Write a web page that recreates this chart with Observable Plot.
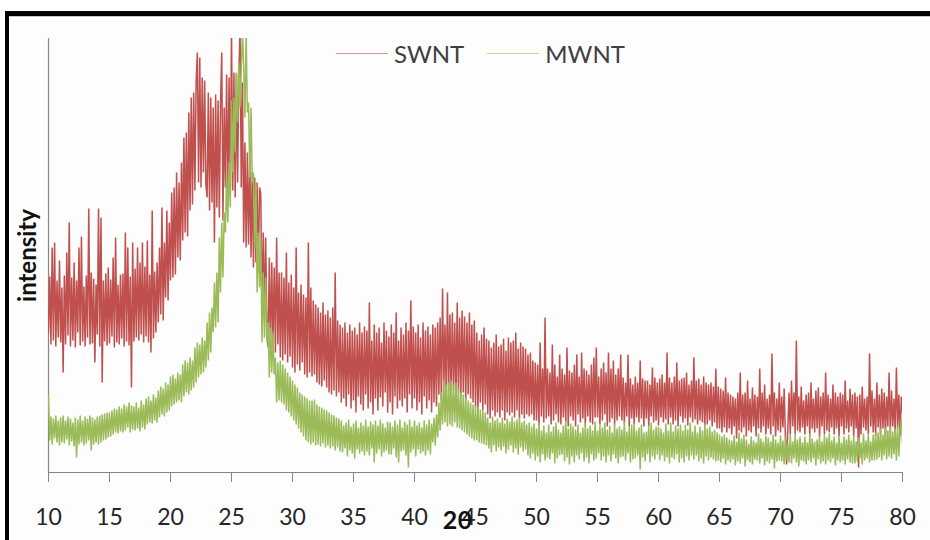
<!DOCTYPE html>
<html>
<head>
<meta charset="utf-8">
<script src="https://cdn.jsdelivr.net/npm/d3@7"></script>
<script src="https://cdn.jsdelivr.net/npm/@observablehq/plot@0.6"></script>
<style>
  html, body { margin: 0; padding: 0; background: #fff; }
  #page { position: relative; width: 930px; height: 540px; overflow: hidden; }
  #frame {
    position: absolute; left: 5px; top: 11px; width: 1000px; height: 600px;
    border-left: 4px solid #000; border-top: 5px solid #000;
    background: #fdfdfd; box-shadow: inset 0 1px 0 #c8c8c8;
  }
  #chart { position: absolute; left: 0; top: 0; }
  #legend {
    position: absolute; left: 336px; top: 39px; height: 28px;
    display: flex; align-items: center;
    font-family: Lato, sans-serif; font-size: 24px; color: #404040;
  }
  .key { display: inline-block; width: 52px; height: 0; border-top: 1.5px solid; opacity: 0.6; }
</style>
</head>
<body>
<div id="page">
  <div id="frame"></div>
  <div id="chart"></div>
  <div id="legend"></div>
</div>
<script>
// XRD scan grid: 2θ from 10° to 80° in 0.1° steps
const scanStart = 10;
const scanStep = 0.1;
const xTicks = [10, 15, 20, 25, 30, 35, 40, 45, 50, 55, 60, 65, 70, 75, 80];
const seriesNames = ["SWNT", "MWNT"];
const seriesColors = ["#C0504D", "#9BBB59"];

// SWNT intensity (arbitrary counts), one row per degree
const swnt = [
140,196,128,225,132,230,126,192,135,212,
130,185,100,197,128,220,137,250,126,195,
132,210,125,192,140,225,127,236,131,186,
126,197,135,264,128,200,129,194,110,188,
138,264,126,255,90,192,131,199,127,205,
129,193,136,215,125,235,130,188,128,198,
134,199,126,240,131,225,127,196,85,230,
131,204,135,225,132,210,138,230,130,206,
136,232,130,198,120,262,134,201,140,210,
150,225,158,265,152,230,175,262,172,250,
192,280,195,285,198,300,215,290,212,310,
232,335,240,340,236,360,262,375,268,380,
282,390,420,290,415,285,395,300,392,288,
275,380,262,375,270,365,230,378,265,372,
255,368,420,252,365,285,398,275,395,280,
445,282,400,275,398,290,395,445,285,390,
230,330,225,320,228,315,215,300,205,295,
210,290,200,285,279,160,240,155,235,150,
125,215,122,210,130,205,120,235,128,200,
115,200,112,195,118,220,110,190,116,198,
105,185,100,225,108,180,102,188,110,178,
98,175,95,230,100,185,96,172,98,168,
90,165,88,160,86,170,92,158,85,162,
80,155,78,165,82,200,76,152,80,148,
70,145,74,150,66,140,78,148,64,142,
72,145,60,138,76,150,68,140,62,146,
78,142,64,170,70,132,58,148,74,140,
62,145,75,130,66,150,80,142,60,136,
70,148,58,140,76,160,64,132,72,145,
66,138,74,150,60,142,78,172,64,146,
74,140,62,148,70,135,58,150,76,142,
64,146,72,138,60,148,70,145,66,150,
78,155,72,184,84,148,76,180,80,158,
74,160,82,150,70,170,80,155,76,162,
80,156,72,150,78,160,74,148,70,152,
65,140,60,132,70,138,62,145,68,134,
58,132,54,125,62,130,56,138,60,126,
55,128,62,134,52,122,60,135,57,130,
60,132,55,140,62,124,54,130,58,126,
54,124,58,118,56,120,58,112,52,110,
52,108,46,130,56,104,50,155,54,104,
56,100,48,128,52,108,58,96,50,118,
48,104,55,98,50,125,46,102,56,100,
52,108,46,118,58,96,50,120,54,104,
46,102,56,98,50,108,48,115,55,125,
55,96,48,104,52,110,58,100,46,120,
50,104,54,112,47,98,52,104,56,118,
52,95,48,90,56,118,46,94,54,88,
48,96,55,90,50,112,54,94,46,92,
54,92,46,88,56,105,50,95,52,90,
47,94,55,98,50,90,53,120,48,95,
55,90,48,96,52,110,46,92,56,94,
50,95,54,100,47,88,55,92,50,115,
53,92,48,94,52,88,50,96,46,90,
48,88,52,90,46,86,50,104,44,86,
44,84,40,82,45,95,40,80,44,78,
38,76,46,74,34,80,42,100,40,78,
45,80,36,92,42,74,40,85,46,78,
36,76,44,104,40,80,46,88,38,74,
44,78,38,119,46,80,36,74,42,90,
40,76,45,84,36,8,44,80,38,92,
46,80,38,132,42,76,40,86,45,72,
38,78,46,80,36,90,44,74,40,82,
44,85,36,76,46,80,38,100,42,78,
40,74,45,88,38,80,44,76,36,80,
46,78,38,92,44,72,40,84,46,78,
36,80,44,76,5,78,38,86,45,74,
42,76,38,119,46,82,40,74,36,90,
45,78,38,84,44,80,36,76,46,100,
38,82,46,74,40,105,44,78,36,76,
60
];

// MWNT intensity (arbitrary counts), one row per degree
const mwnt = [
77,32,56,28,54,34,57,30,52,27,
55,30,57,29,52,33,56,27,54,31,
50,26,55,15,53,28,57,30,52,27,
56,29,54,32,57,22,55,28,53,30,
56,28,57,30,58,32,59,33,60,35,
60,36,62,38,64,40,63,39,66,41,
64,40,68,42,66,45,70,40,67,43,
66,42,70,44,65,41,72,45,68,43,
74,48,76,50,72,49,78,52,75,50,
82,55,86,58,84,56,90,60,88,62,
96,66,98,68,94,70,100,72,98,70,
108,76,112,80,110,78,115,82,112,85,
125,90,130,95,128,98,135,100,132,105,
150,112,160,120,165,140,190,145,200,150,
235,180,250,195,260,240,300,250,310,265,
372,300,375,320,400,350,410,365,405,440,
405,355,440,360,370,295,365,290,300,225,
290,180,240,185,235,130,200,135,195,130,
150,95,145,100,140,98,115,70,110,72,
112,70,108,68,104,62,100,60,96,56,
92,52,88,48,85,44,80,40,78,36,
76,32,74,30,72,28,72,30,73,27,
68,28,66,26,65,29,63,25,62,27,
60,24,58,26,57,22,55,25,54,21,
52,20,47,24,50,16,53,22,46,19,
49,14,52,23,45,19,50,21,47,17,
53,21,46,17,51,24,48,10,52,19,
47,23,53,16,49,20,45,22,51,18,
50,18,46,24,52,15,48,10,53,21,
45,22,51,17,48,5,53,20,46,23,
52,16,47,23,50,19,45,21,52,17,
48,22,53,18,49,30,55,27,58,35,
70,42,80,48,92,50,88,46,90,48,
92,46,88,50,90,45,84,44,80,42,
78,40,75,38,72,36,70,34,68,32,
67,32,66,30,63,29,62,28,60,27,
55,24,50,20,56,27,52,21,54,25,
50,22,55,26,49,19,54,23,51,27,
56,20,51,24,53,18,55,25,50,21,
52,23,48,17,50,14,46,19,49,12,
44,16,50,10,42,18,47,12,40,15,
48,13,41,19,46,9,50,14,43,17,
40,18,47,11,52,15,44,8,49,16,
46,10,43,17,48,13,40,19,45,11,
50,15,44,9,47,18,42,12,51,14,
42,19,48,12,45,16,50,10,43,17,
47,11,40,18,49,14,44,9,46,15,
43,16,51,12,41,19,46,10,48,13,
49,14,42,17,45,3,48,15,40,11,
41,18,47,10,50,16,43,13,46,18,
46,12,44,17,40,11,49,15,42,9,
50,15,41,13,47,18,44,10,48,14,
42,10,48,16,43,12,50,17,41,13,
47,17,40,11,46,14,42,9,49,16,
44,12,46,15,41,13,43,11,40,12,
38,10,36,14,38,8,35,12,33,10,
32,13,37,7,31,11,40,9,34,14,
38,6,33,12,29,10,36,8,32,13,
30,12,39,9,34,14,31,7,37,11,
35,9,31,13,38,4,33,11,30,12,
37,11,32,8,36,13,29,10,38,9,
31,14,38,10,33,6,36,12,30,11,
36,8,30,12,39,10,34,14,31,7,
33,13,37,9,31,11,38,8,35,12,
39,10,32,14,36,7,30,12,37,10,
30,12,36,8,33,13,38,10,32,9,
37,9,31,11,35,14,30,8,39,12,
32,14,38,10,31,12,38,12,40,13,
40,15,44,12,38,17,45,13,42,16,
46,14,41,18,44,12,47,16,43,54,
30
];

// Long-format table for Plot
const seriesValues = [swnt, mwnt];
const rows = [];
seriesNames.forEach((name, k) => {
  seriesValues[k].forEach((v, i) => {
    rows.push({series: name, twoTheta: +(scanStart + i * scanStep).toFixed(1), intensity: v});
  });
});

const chart = Plot.plot({
  width: 930,
  height: 540,
  marginLeft: 48,
  marginRight: 28,
  marginTop: 38,
  marginBottom: 68,
  style: {background: "transparent", fontFamily: "Lato, sans-serif", fontSize: "23px", color: "#262626"},
  x: {domain: [10, 80]},
  y: {domain: [0, 434], axis: null},
  color: {domain: seriesNames, range: seriesColors},
  marks: [
    Plot.ruleX([10], {stroke: "#868686", strokeWidth: 1.2}),
    Plot.line(rows, {x: "twoTheta", y: "intensity", z: "series", stroke: "series", strokeWidth: 1.5, strokeLinejoin: "miter", clip: true}),
    Plot.ruleY([0], {stroke: "#868686", strokeWidth: 1.2}),
    Plot.axisX({ticks: xTicks, tickSize: 10, tickPadding: 26, fontSize: 23, stroke: "#868686", fill: "#262626", label: null}),
    Plot.text(["2θ"], {frameAnchor: "bottom", dx: -18, dy: 56, fontWeight: "bold", fontSize: 25, fill: "#111"}),
    Plot.text(["intensity"], {frameAnchor: "left", textAnchor: "middle", rotate: -90, dx: -20, fontWeight: "bold", fontSize: 24, fill: "#111"})
  ]
});
document.getElementById("chart").appendChild(chart);

// Series key
const legend = document.getElementById("legend");
seriesNames.forEach((name, k) => {
  const key = document.createElement("span");
  key.className = "key";
  key.style.borderTopColor = seriesColors[k];
  if (k > 0) key.style.marginLeft = "23px";
  const label = document.createElement("span");
  label.textContent = name;
  label.style.marginLeft = "6px";
  legend.append(key, label);
});
</script>
</body>
</html>
